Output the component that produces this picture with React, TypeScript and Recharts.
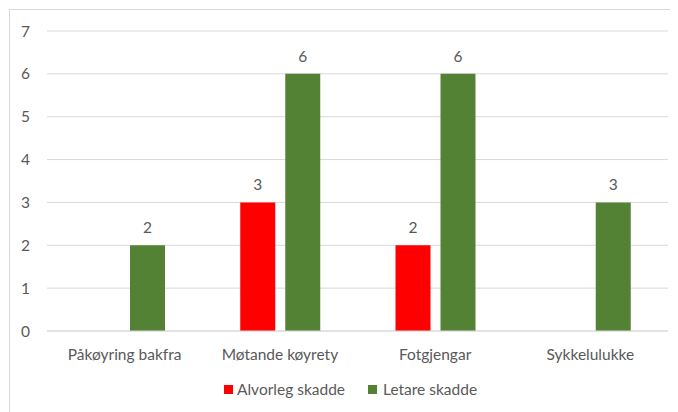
import React from 'react';
import { BarChart, Bar, XAxis, YAxis, CartesianGrid, LabelList, Legend } from 'recharts';

const categories = ['Påkøyring bakfra', 'Møtande køyrety', 'Fotgjengar', 'Sykkelulukke'];
const alvorlegSkadde: (number | null)[] = [null, 3, 2, null];
const letareSkadde: number[] = [2, 6, 6, 3];
const yTicks = [0, 1, 2, 3, 4, 5, 6, 7];

const seriesNames = { alvorleg: 'Alvorleg skadde', letare: 'Letare skadde' };
const colors = { alvorleg: '#FF0000', letare: '#548235' };

const data = categories.map((name, i) => ({
  name,
  alvorleg: alvorlegSkadde[i],
  letare: letareSkadde[i],
}));

const FONT = 'Lato, "Noto Sans", sans-serif';
const TEXT = '#595959';
const FS = 15.5;

const LegendContent = () => (
  <div style={{ position: 'relative', height: 41, fontFamily: FONT, fontSize: FS, color: TEXT }}>
    <div style={{ position: 'absolute', left: 216, top: 14, width: 9, height: 9, background: colors.alvorleg }} />
    <div style={{ position: 'absolute', left: 229, top: 9, lineHeight: '18px', whiteSpace: 'nowrap' }}>{seriesNames.alvorleg}</div>
    <div style={{ position: 'absolute', left: 360, top: 14, width: 9, height: 9, background: colors.letare }} />
    <div style={{ position: 'absolute', left: 375, top: 9, lineHeight: '18px', whiteSpace: 'nowrap' }}>{seriesNames.letare}</div>
  </div>
);

export default function App() {
  return (
    <div style={{ width: 670, height: 404, overflow: 'hidden', position: 'relative' }}>
      <div style={{ position: 'absolute', left: 1, top: 1, width: 700, height: 430, border: '1px solid #d9d9d9', boxSizing: 'border-box' }} />
      <div style={{ position: 'absolute', left: 0, top: 0 }}>
        <BarChart
          width={670}
          height={404}
          data={data}
          margin={{ top: 23, right: 10, left: 0, bottom: 0 }}
          barSize={35}
          barGap={10}
        >
          <CartesianGrid vertical={false} stroke="#d9d9d9" strokeWidth={1} />
          <XAxis
            dataKey="name"
            height={40}
            axisLine={{ stroke: '#d9d9d9' }}
            tickLine={false}
            tickSize={0}
            tickMargin={18}
            tick={{ fill: TEXT, fontSize: FS, fontFamily: FONT }}
          />
          <YAxis
            width={39}
            domain={[0, 7]}
            ticks={yTicks}
            axisLine={false}
            tickLine={false}
            tickSize={0}
            tickMargin={17}
            tick={{ fill: TEXT, fontSize: FS, fontFamily: FONT }}
          />
          <Legend verticalAlign="bottom" height={41} content={<LegendContent />} />
          <Bar dataKey="alvorleg" name={seriesNames.alvorleg} fill={colors.alvorleg} isAnimationActive={false}>
            <LabelList dataKey="alvorleg" position="top" offset={12} fill={TEXT} fontSize={FS} fontFamily={FONT} />
          </Bar>
          <Bar dataKey="letare" name={seriesNames.letare} fill={colors.letare} isAnimationActive={false}>
            <LabelList dataKey="letare" position="top" offset={12} fill={TEXT} fontSize={FS} fontFamily={FONT} />
          </Bar>
        </BarChart>
      </div>
    </div>
  );
}
